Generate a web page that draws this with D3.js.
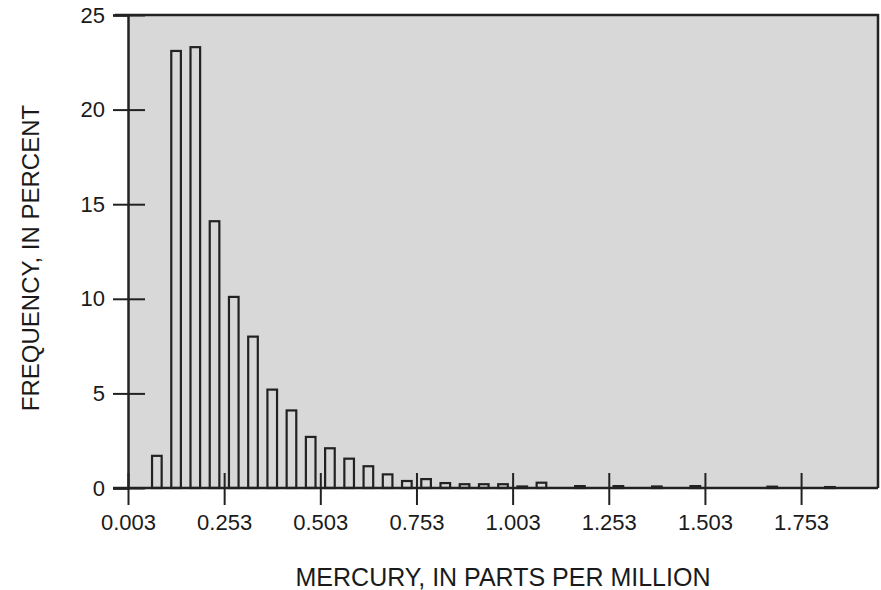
<!DOCTYPE html>
<meta charset="utf-8">
<style>
body { margin: 0; background: #fff; }
svg { display: block; }
.axis text {
  font: 22px "Liberation Sans", Arial, sans-serif;
  fill: #1a1a1a;
}
.axis line,
.axis path {
  fill: none;
  stroke: #222;
}
.title {
  font: 24px "Liberation Sans", Arial, sans-serif;
  fill: #1a1a1a;
}
.bar {
  fill: none;
  stroke: #222;
  stroke-width: 2.2px;
}
</style>
<body>
<div id="hist"></div>
<script src="https://cdn.jsdelivr.net/npm/d3@7"></script>
<script>

// bin centres (ppm) and frequency (percent)
var binCenters = [0.078, 0.128, 0.178, 0.228, 0.278, 0.328, 0.378, 0.428, 0.478, 0.528,
                  0.578, 0.628, 0.678, 0.728, 0.778, 0.828, 0.878, 0.928, 0.978, 1.028,
                  1.078, 1.178, 1.278, 1.378, 1.478, 1.678, 1.828];
var frequency = [1.7, 23.1, 23.3, 14.1, 10.1, 8.0, 5.2, 4.1, 2.7, 2.1,
                 1.55, 1.15, 0.72, 0.37, 0.47, 0.26, 0.2, 0.2, 0.2, 0.08,
                 0.28, 0.1, 0.1, 0.08, 0.1, 0.07, 0.05];
var xTicks = [0.003, 0.253, 0.503, 0.753, 1.003, 1.253, 1.503, 1.753];
var yTicks = [0, 5, 10, 15, 20, 25];
var binHalf = 0.0125;

var margin = {top: 15, right: 3, bottom: 102, left: 128},
    width = 881 - margin.left - margin.right,
    height = 590 - margin.top - margin.bottom;

var svg = d3.select("#hist").append("svg")
    .attr("width", 881)
    .attr("height", 590);

var g = svg.append("g")
    .attr("transform", "translate(" + margin.left + "," + margin.top + ")");

var x = d3.scaleLinear().domain([0.003, 1.953]).range([0, width]);
var y = d3.scaleLinear().domain([0, 25]).range([height, 0]);

// grey plot area
g.append("rect")
    .attr("width", width)
    .attr("height", height)
    .style("fill", "#d8d8d8");

// bars
g.selectAll(".bar")
    .data(binCenters)
    .enter().append("rect")
    .attr("class", "bar")
    .attr("x", function(d) { return x(d - binHalf); })
    .attr("width", function(d) { return x(d + binHalf) - x(d - binHalf); })
    .attr("y", function(d, i) { return y(frequency[i]); })
    .attr("height", function(d, i) { return y(0) - y(frequency[i]); });

// frame top / right
g.append("path")
    .attr("d", "M" + (-13) + ",0H" + width + "V" + height)
    .style("fill", "none")
    .style("stroke", "#222")
    .style("stroke-width", "2.5px");

// y axis, ticks cross the axis line
var yAxis = g.append("g")
    .attr("class", "axis")
    .call(d3.axisLeft(y).tickValues(yTicks).tickSize(15).tickPadding(8));
yAxis.select(".domain").style("stroke-width", "2.5px");
yAxis.selectAll(".tick line").attr("x2", -15).attr("x1", 17).style("stroke-width", "2px");

// x axis
var xAxis = g.append("g")
    .attr("class", "axis")
    .attr("transform", "translate(0," + height + ")")
    .call(d3.axisBottom(x).tickValues(xTicks).tickFormat(d3.format(".3f")).tickSize(17).tickPadding(9));
xAxis.select(".domain").style("stroke-width", "2.5px").attr("d", "M-15,0H" + width);
xAxis.selectAll(".tick line").attr("y1", -15).attr("y2", 17).style("stroke-width", "2px");

// axis titles
svg.append("text")
    .attr("class", "title")
    .attr("text-anchor", "middle")
    .style("font-size", "25px")
    .attr("x", 503)
    .attr("y", 586)
    .text("MERCURY, IN PARTS PER MILLION");

svg.append("text")
    .attr("class", "title")
    .attr("text-anchor", "middle")
    .attr("transform", "translate(39,258) rotate(-90)")
    .text("FREQUENCY, IN PERCENT");

</script>
